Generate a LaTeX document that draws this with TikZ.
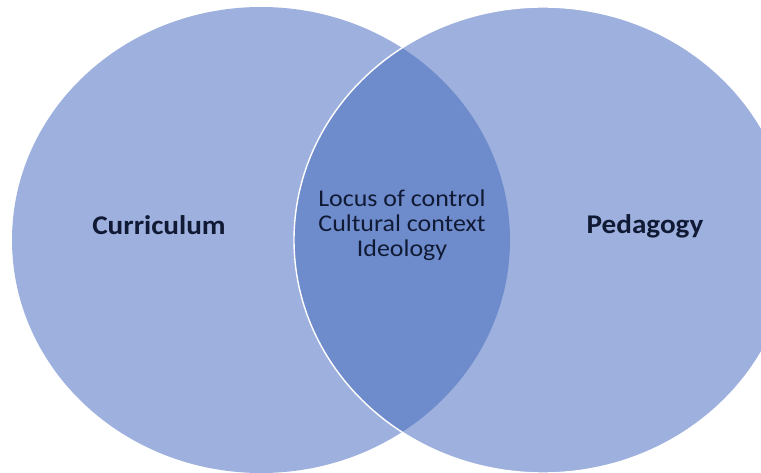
\documentclass[tikz,border=0pt]{standalone}
\usepackage{fontspec}
\setmainfont{Carlito}
\definecolor{setfill}{RGB}{158,176,221}
\definecolor{overlapfill}{RGB}{110,139,204}
\definecolor{labelink}{RGB}{16,26,52}
\newcommand{\widen}[1]{\scalebox{1.08}[1]{#1}}
\begin{document}
\begin{tikzpicture}[x=1pt,y=-1pt,
  setshape/.style={x radius=249pt, y radius=233pt},
  setlabel/.style={font=\fontsize{27}{30}\selectfont\bfseries, text=labelink, inner sep=0pt, anchor=base},
  overlaplabel/.style={font=\fontsize{24}{25}\selectfont, text=labelink, inner sep=0pt, anchor=base}]
  \useasboundingbox (0,0) rectangle (761,473);
  \fill[white] (0,0) rectangle (761,473);
  % centres of the two sets
  \coordinate (cl) at (261,240);
  \coordinate (cr) at (543,240);
  % the two sets
  \fill[setfill] (cl) ellipse [setshape];
  \fill[setfill] (cr) ellipse [setshape];
  % their overlap
  \begin{scope}
    \clip (cl) ellipse [setshape];
    \fill[overlapfill] (cr) ellipse [setshape];
  \end{scope}
  \draw[white, line width=1.4pt] (cr) ellipse [setshape];
  % labels
  \node[setlabel] (curriculum) at (159,235) {\widen{Curriculum}};
  \node[setlabel] (pedagogy) at (645,234) {\widen{Pedagogy}};
  \node[overlaplabel] (locus) at (402,207) {\widen{Locus of control}};
  \node[overlaplabel] (culture) at (402,232) {\widen{Cultural context}};
  \node[overlaplabel] (ideology) at (402,257) {\widen{Ideology}};
\end{tikzpicture}
\end{document}
